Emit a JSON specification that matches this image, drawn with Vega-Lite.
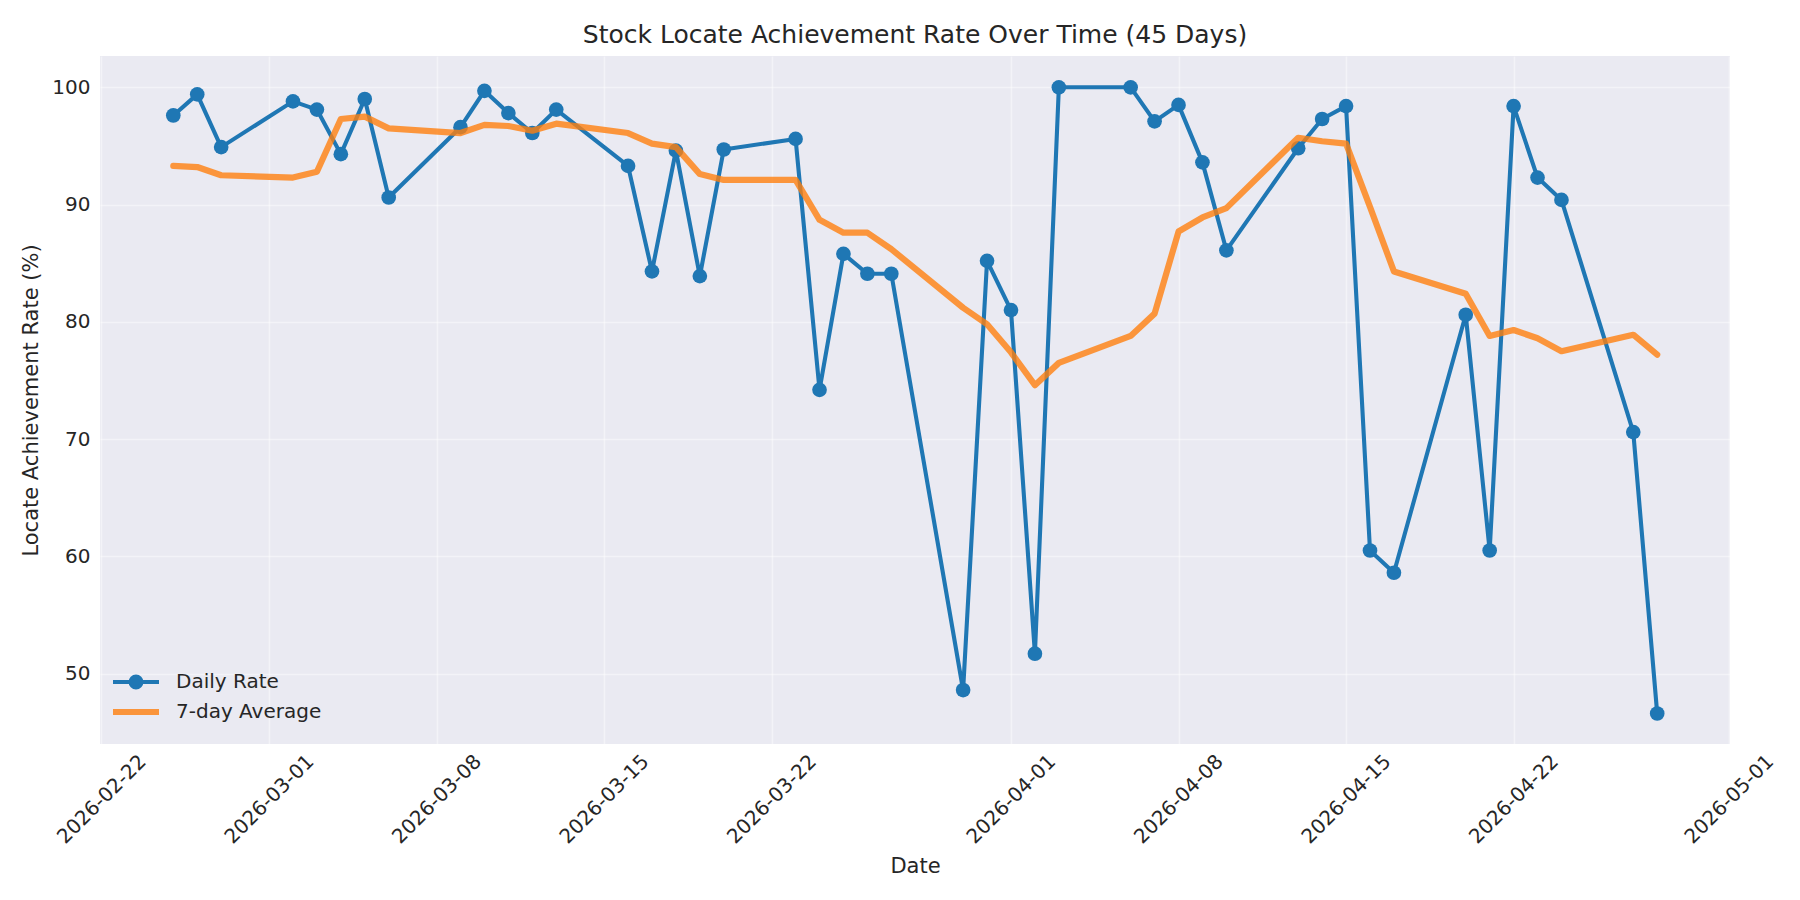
{
  "$schema": "https://vega.github.io/schema/vega-lite/v6.json",
  "width": 1630,
  "height": 688,
  "autosize": "none",
  "padding": {"left": 100, "top": 56, "right": 70, "bottom": 156},
  "background": "#ffffff",
  "config": {
    "font": "DejaVu Sans",
    "view": {"fill": "#EAEAF2", "stroke": null},
    "axis": {
      "domain": false,
      "ticks": false,
      "tickSize": 0,
      "grid": true,
      "gridColor": "#FFFFFF",
      "gridOpacity": 0.45,
      "gridWidth": 1.6,
      "labelFont": "DejaVu Sans",
      "labelFontSize": 20,
      "labelColor": "#262626",
      "titleFont": "DejaVu Sans",
      "titleFontSize": 21,
      "titleFontWeight": "normal",
      "titleColor": "#262626"
    },
    "legend": {
      "labelFont": "DejaVu Sans",
      "labelFontSize": 20,
      "labelColor": "#262626"
    }
  },
  "title": {
    "text": "Stock Locate Achievement Rate Over Time (45 Days)",
    "font": "DejaVu Sans",
    "fontSize": 25,
    "fontWeight": "normal",
    "color": "#262626",
    "anchor": "middle",
    "baseline": "alphabetic",
    "offset": -12
  },
  "data": {
    "values": [
      {"date": "2026-02-25", "series": "Daily Rate", "value": 97.6},
      {"date": "2026-02-26", "series": "Daily Rate", "value": 99.4},
      {"date": "2026-02-27", "series": "Daily Rate", "value": 94.9},
      {"date": "2026-03-02", "series": "Daily Rate", "value": 98.8},
      {"date": "2026-03-03", "series": "Daily Rate", "value": 98.1},
      {"date": "2026-03-04", "series": "Daily Rate", "value": 94.3},
      {"date": "2026-03-05", "series": "Daily Rate", "value": 99.0},
      {"date": "2026-03-06", "series": "Daily Rate", "value": 90.6},
      {"date": "2026-03-09", "series": "Daily Rate", "value": 96.6},
      {"date": "2026-03-10", "series": "Daily Rate", "value": 99.7},
      {"date": "2026-03-11", "series": "Daily Rate", "value": 97.8},
      {"date": "2026-03-12", "series": "Daily Rate", "value": 96.1},
      {"date": "2026-03-13", "series": "Daily Rate", "value": 98.1},
      {"date": "2026-03-16", "series": "Daily Rate", "value": 93.3},
      {"date": "2026-03-17", "series": "Daily Rate", "value": 84.3},
      {"date": "2026-03-18", "series": "Daily Rate", "value": 94.6},
      {"date": "2026-03-19", "series": "Daily Rate", "value": 83.9},
      {"date": "2026-03-20", "series": "Daily Rate", "value": 94.7},
      {"date": "2026-03-23", "series": "Daily Rate", "value": 95.6},
      {"date": "2026-03-24", "series": "Daily Rate", "value": 74.2},
      {"date": "2026-03-25", "series": "Daily Rate", "value": 85.8},
      {"date": "2026-03-26", "series": "Daily Rate", "value": 84.1},
      {"date": "2026-03-27", "series": "Daily Rate", "value": 84.1},
      {"date": "2026-03-30", "series": "Daily Rate", "value": 48.6},
      {"date": "2026-03-31", "series": "Daily Rate", "value": 85.2},
      {"date": "2026-04-01", "series": "Daily Rate", "value": 81.0},
      {"date": "2026-04-02", "series": "Daily Rate", "value": 51.7},
      {"date": "2026-04-03", "series": "Daily Rate", "value": 100.0},
      {"date": "2026-04-06", "series": "Daily Rate", "value": 100.0},
      {"date": "2026-04-07", "series": "Daily Rate", "value": 97.1},
      {"date": "2026-04-08", "series": "Daily Rate", "value": 98.5},
      {"date": "2026-04-09", "series": "Daily Rate", "value": 93.6},
      {"date": "2026-04-10", "series": "Daily Rate", "value": 86.1},
      {"date": "2026-04-13", "series": "Daily Rate", "value": 94.8},
      {"date": "2026-04-14", "series": "Daily Rate", "value": 97.3},
      {"date": "2026-04-15", "series": "Daily Rate", "value": 98.4},
      {"date": "2026-04-16", "series": "Daily Rate", "value": 60.5},
      {"date": "2026-04-17", "series": "Daily Rate", "value": 58.6},
      {"date": "2026-04-20", "series": "Daily Rate", "value": 80.6},
      {"date": "2026-04-21", "series": "Daily Rate", "value": 60.5},
      {"date": "2026-04-22", "series": "Daily Rate", "value": 98.4},
      {"date": "2026-04-23", "series": "Daily Rate", "value": 92.3},
      {"date": "2026-04-24", "series": "Daily Rate", "value": 90.4},
      {"date": "2026-04-27", "series": "Daily Rate", "value": 70.6},
      {"date": "2026-04-28", "series": "Daily Rate", "value": 46.6},
      {"date": "2026-02-25", "series": "7-day Average", "value": 93.3},
      {"date": "2026-02-26", "series": "7-day Average", "value": 93.2},
      {"date": "2026-02-27", "series": "7-day Average", "value": 92.5},
      {"date": "2026-03-02", "series": "7-day Average", "value": 92.3},
      {"date": "2026-03-03", "series": "7-day Average", "value": 92.8},
      {"date": "2026-03-04", "series": "7-day Average", "value": 97.3},
      {"date": "2026-03-05", "series": "7-day Average", "value": 97.5},
      {"date": "2026-03-06", "series": "7-day Average", "value": 96.5},
      {"date": "2026-03-09", "series": "7-day Average", "value": 96.1},
      {"date": "2026-03-10", "series": "7-day Average", "value": 96.8},
      {"date": "2026-03-11", "series": "7-day Average", "value": 96.7},
      {"date": "2026-03-12", "series": "7-day Average", "value": 96.3},
      {"date": "2026-03-13", "series": "7-day Average", "value": 96.9},
      {"date": "2026-03-16", "series": "7-day Average", "value": 96.1},
      {"date": "2026-03-17", "series": "7-day Average", "value": 95.2},
      {"date": "2026-03-18", "series": "7-day Average", "value": 94.9},
      {"date": "2026-03-19", "series": "7-day Average", "value": 92.6},
      {"date": "2026-03-20", "series": "7-day Average", "value": 92.1},
      {"date": "2026-03-23", "series": "7-day Average", "value": 92.1},
      {"date": "2026-03-24", "series": "7-day Average", "value": 88.7},
      {"date": "2026-03-25", "series": "7-day Average", "value": 87.6},
      {"date": "2026-03-26", "series": "7-day Average", "value": 87.6},
      {"date": "2026-03-27", "series": "7-day Average", "value": 86.2},
      {"date": "2026-03-30", "series": "7-day Average", "value": 81.2},
      {"date": "2026-03-31", "series": "7-day Average", "value": 79.8},
      {"date": "2026-04-01", "series": "7-day Average", "value": 77.4},
      {"date": "2026-04-02", "series": "7-day Average", "value": 74.6},
      {"date": "2026-04-03", "series": "7-day Average", "value": 76.5},
      {"date": "2026-04-06", "series": "7-day Average", "value": 78.8},
      {"date": "2026-04-07", "series": "7-day Average", "value": 80.7},
      {"date": "2026-04-08", "series": "7-day Average", "value": 87.7},
      {"date": "2026-04-09", "series": "7-day Average", "value": 88.9},
      {"date": "2026-04-10", "series": "7-day Average", "value": 89.7},
      {"date": "2026-04-13", "series": "7-day Average", "value": 95.7},
      {"date": "2026-04-14", "series": "7-day Average", "value": 95.4},
      {"date": "2026-04-15", "series": "7-day Average", "value": 95.2},
      {"date": "2026-04-16", "series": "7-day Average", "value": 89.8},
      {"date": "2026-04-17", "series": "7-day Average", "value": 84.3},
      {"date": "2026-04-20", "series": "7-day Average", "value": 82.4},
      {"date": "2026-04-21", "series": "7-day Average", "value": 78.8},
      {"date": "2026-04-22", "series": "7-day Average", "value": 79.3},
      {"date": "2026-04-23", "series": "7-day Average", "value": 78.6},
      {"date": "2026-04-24", "series": "7-day Average", "value": 77.5},
      {"date": "2026-04-27", "series": "7-day Average", "value": 78.9},
      {"date": "2026-04-28", "series": "7-day Average", "value": 77.2}
    ]
  },
  "encoding": {
    "x": {
      "field": "date",
      "type": "temporal",
      "scale": {
        "type": "utc",
        "domain": [
          {"year": 2026, "month": 2, "date": 21, "hours": 22, "minutes": 30, "utc": true},
          {"year": 2026, "month": 5, "date": 1, "hours": 1, "minutes": 0, "utc": true}
        ]
      },
      "axis": {
        "title": "Date",
        "titleY": 122,
        "titleBaseline": "middle",
        "format": "%Y-%m-%d",
        "labelAngle": -45,
        "labelAlign": "center",
        "labelBaseline": "middle",
        "labelPadding": 55,
        "labelFlush": false,
        "labelOverlap": false,
        "values": [
          {"year": 2026, "month": 2, "date": 22, "utc": true},
          {"year": 2026, "month": 3, "date": 1, "utc": true},
          {"year": 2026, "month": 3, "date": 8, "utc": true},
          {"year": 2026, "month": 3, "date": 15, "utc": true},
          {"year": 2026, "month": 3, "date": 22, "utc": true},
          {"year": 2026, "month": 4, "date": 1, "utc": true},
          {"year": 2026, "month": 4, "date": 8, "utc": true},
          {"year": 2026, "month": 4, "date": 15, "utc": true},
          {"year": 2026, "month": 4, "date": 22, "utc": true},
          {"year": 2026, "month": 5, "date": 1, "utc": true}
        ]
      }
    },
    "y": {
      "field": "value",
      "type": "quantitative",
      "scale": {"domain": [44.0, 102.67], "nice": false, "zero": false},
      "axis": {
        "title": "Locate Achievement Rate (%)",
        "titleX": -69,
        "titleY": 344,
        "titleAlign": "center",
        "titleBaseline": "middle",
        "labelPadding": 10,
        "values": [50, 60, 70, 80, 90, 100]
      }
    },
    "color": {
      "field": "series",
      "type": "nominal",
      "scale": {"domain": ["Daily Rate", "7-day Average"], "range": ["#1f77b4", "#ff7f0e"]},
      "legend": {
        "title": null,
        "orient": "none",
        "legendX": 26,
        "legendY": 616,
        "padding": 0,
        "rowPadding": 3,
        "labelOffset": 30,
        "symbolSize": 400,
        "encode": {
          "symbols": {
            "update": {
              "shape": {"signal": "datum.value === 'Daily Rate' ? 'M-2.3,0L2.3,0M0.54,0A0.54,0.54,0,1,1,-0.54,0A0.54,0.54,0,1,1,0.54,0Z' : 'M-2.3,0L2.3,0'"},
              "size": {"value": 400},
              "strokeWidth": {"signal": "datum.value === 'Daily Rate' ? 4.1 : 6.2"},
              "fill": {"signal": "datum.value === 'Daily Rate' ? '#1f77b4' : 'transparent'"},
              "stroke": {"signal": "datum.value === 'Daily Rate' ? '#1f77b4' : '#ff7f0e'"},
              "opacity": {"signal": "datum.value === 'Daily Rate' ? 1 : 0.8"}
            }
          }
        }
      }
    }
  },
  "layer": [
    {
      "transform": [{"filter": "datum.series === 'Daily Rate'"}],
      "mark": {"type": "line", "strokeWidth": 4.1, "strokeJoin": "round"}
    },
    {
      "transform": [{"filter": "datum.series === 'Daily Rate'"}],
      "mark": {"type": "point", "filled": true, "size": 215, "opacity": 1, "strokeWidth": 0}
    },
    {
      "transform": [{"filter": "datum.series === '7-day Average'"}],
      "mark": {"type": "line", "strokeWidth": 6.2, "opacity": 0.8, "strokeCap": "round", "strokeJoin": "round"}
    }
  ]
}
